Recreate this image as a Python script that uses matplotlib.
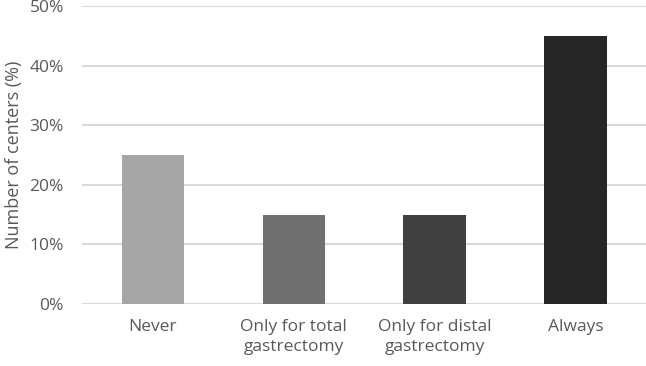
import matplotlib
matplotlib.use("Agg")
import matplotlib.pyplot as plt
from matplotlib.ticker import FuncFormatter

categories = ["Never", "Only for total\ngastrectomy", "Only for distal\ngastrectomy", "Always"]
values = [25, 15, 15, 45]
colors = ["#A6A6A6", "#707070", "#404040", "#262626"]
yticks = [0, 10, 20, 30, 40, 50]

plt.rcParams['font.family'] = ['Open Sans', 'DejaVu Sans']

fig = plt.figure(figsize=(6.46, 3.66), dpi=100)
ax = fig.add_axes([0.127, 0.1694, 0.873, 0.8142])
x = range(len(categories))
ax.bar(x, values, width=0.44, color=colors, zorder=3)
ax.set_xlim(-0.5, len(categories) - 0.5)
ax.set_ylim(0, 50)
ax.set_yticks(yticks)
ax.yaxis.set_major_formatter(FuncFormatter(lambda v, p: f"{int(v)}%"))
ax.grid(axis='y', color='#D9D9D9', linewidth=1.5, zorder=0)
ax.set_xticks(list(x))
ax.set_xticklabels(categories, fontsize=12.5, color='#595959', linespacing=1.3)
ax.tick_params(axis='y', labelsize=12.5, labelcolor='#595959', length=0, pad=13)
ax.tick_params(axis='x', length=0, pad=11)
for s in ax.spines.values():
    s.set_visible(False)
ax.set_ylabel("Number of centers (%)", fontsize=13, color='#595959', labelpad=5)
fig.savefig("out.png", dpi=100)
